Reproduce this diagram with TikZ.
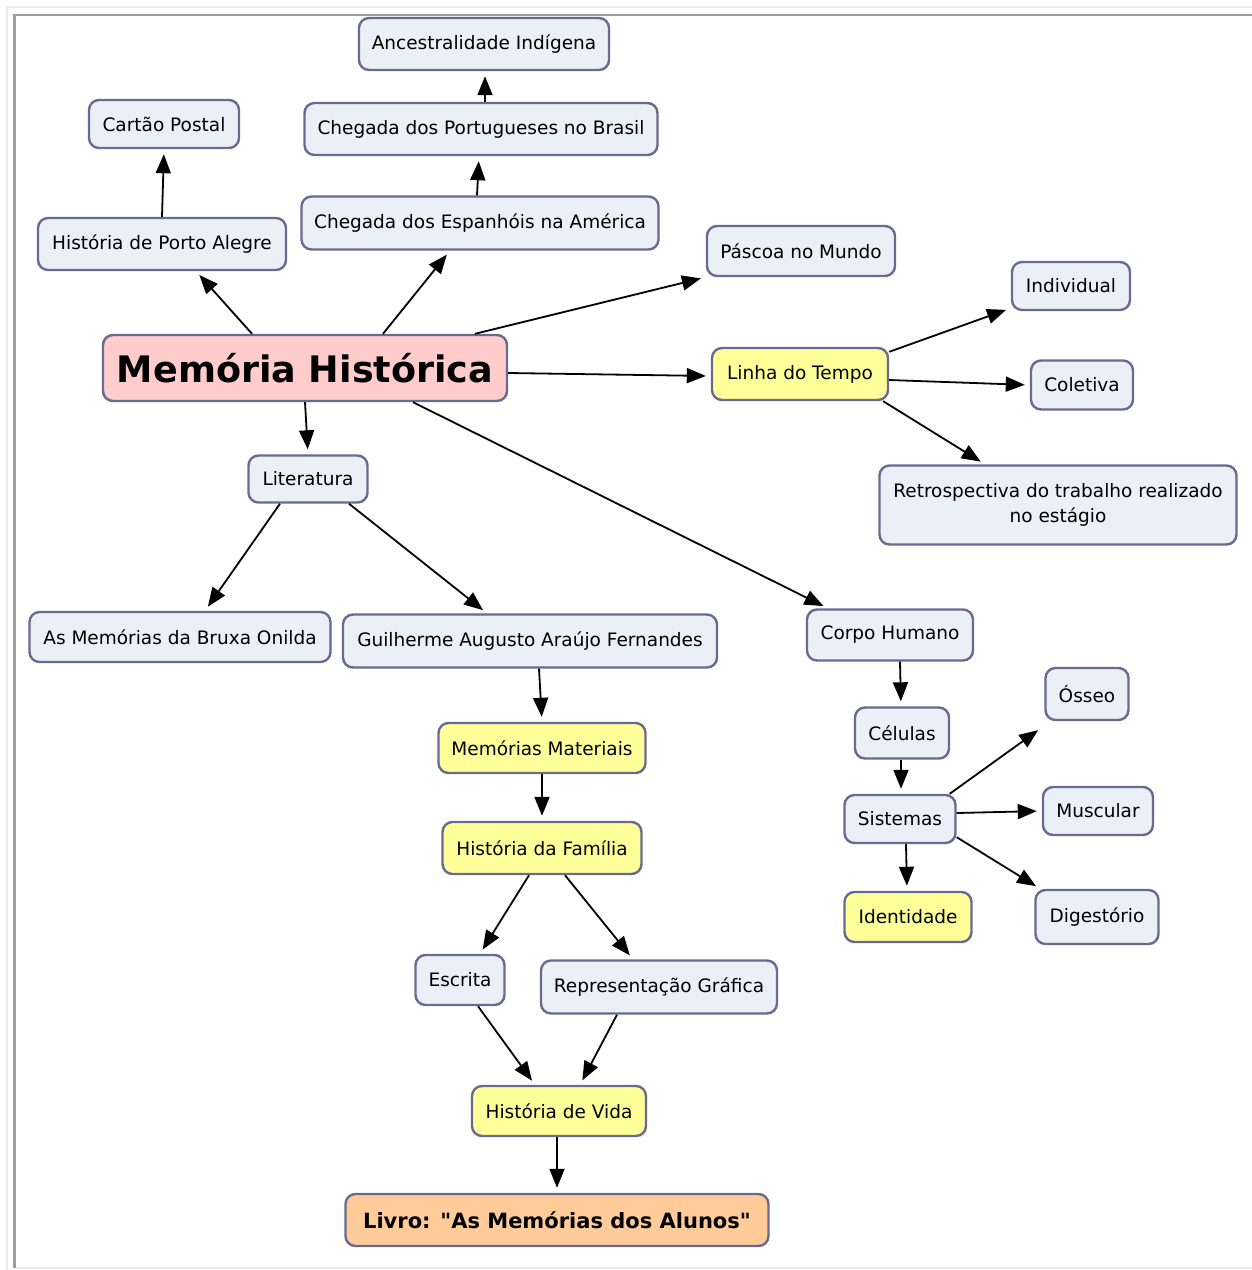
\documentclass[tikz,border=0pt]{standalone}
\usepackage{fontspec}
\setmainfont{DejaVu Sans}[Ligatures=TeXOff]
\usetikzlibrary{arrows.meta,calc}
\definecolor{bfill}{HTML}{EAF0F6}
\definecolor{bdraw}{HTML}{6A6A90}
\definecolor{yfill}{HTML}{FFFF99}
\definecolor{pfill}{HTML}{FFCCCC}
\definecolor{ofill}{HTML}{FFCC99}
\tikzset{
  box/.style={draw=bdraw, line width=2.4pt, rounded corners=10pt, fill=bfill, align=center,
    inner sep=0pt, font=\fontsize{18.5}{25}\selectfont},
  ybox/.style={box, fill=yfill},
  arr/.style={line width=1.8pt, -{Triangle[length=19pt,width=15pt]}, shorten >=5pt},
}
\begin{document}
\begin{tikzpicture}[x=1pt,y=-1pt]
\useasboundingbox (0,0) rectangle (1252,1270);
\fill[white] (0,0) rectangle (1252,1270);
\draw[line width=2pt, black!8] (7,1270) -- (7,7) -- (1252,7);
\draw[line width=2pt, black!8] (16,1268) -- (1252,1268);
\draw[line width=2.5pt, black!38] (14.5,1268) -- (14.5,15) -- (1252,15);

\node[box, minimum width=250, minimum height=52] (anc) at (484,44) {Ancestralidade Indígena};
\node[box, minimum width=150, minimum height=48] (cart) at (164,124) {Cartão Postal};
\node[box, minimum width=353, minimum height=52] (port) at (481,129) {Chegada dos Portugueses no Brasil};
\node[box, minimum width=357, minimum height=53] (esp) at (480,223) {Chegada dos Espanhóis na América};
\node[box, minimum width=248, minimum height=52] (hpa) at (162,244) {História de Porto Alegre};
\node[box, minimum width=188, minimum height=50] (pasc) at (801,251) {Páscoa no Mundo};
\node[box, minimum width=118, minimum height=48] (ind) at (1071,286) {Individual};
\node[box, fill=pfill, minimum width=404, minimum height=66, font=\fontsize{36.5}{40}\selectfont\bfseries] (mh) at (305,368) {Memória Histórica};
\node[ybox, minimum width=176, minimum height=52] (linha) at (800,374) {Linha do Tempo};
\node[box, minimum width=102, minimum height=49] (col) at (1082,385) {Coletiva};
\node[box, minimum width=357, minimum height=79] (retro) at (1058,505) {Retrospectiva do trabalho realizado\\no estágio};
\node[box, minimum width=119, minimum height=47] (lit) at (308,479) {Literatura};
\node[box, minimum width=301, minimum height=50] (brux) at (180,637) {As Memórias da Bruxa Onilda};
\node[box, minimum width=374, minimum height=53] (guil) at (530,641) {Guilherme Augusto Araújo Fernandes};
\node[box, minimum width=166, minimum height=51] (corpo) at (890,635) {Corpo Humano};
\node[box, minimum width=83, minimum height=52] (oss) at (1087,694) {Ósseo};
\node[box, minimum width=94, minimum height=51] (cel) at (902,733) {Células};
\node[ybox, minimum width=207, minimum height=50] (mmat) at (542,748) {Memórias Materiais};
\node[box, minimum width=110, minimum height=48] (musc) at (1098,811) {Muscular};
\node[box, minimum width=111, minimum height=48] (sist) at (900,819) {Sistemas};
\node[ybox, minimum width=199, minimum height=52] (hfam) at (542,848) {História da Família};
\node[ybox, minimum width=127, minimum height=50] (iden) at (908,917) {Identidade};
\node[box, minimum width=123, minimum height=54] (dig) at (1097,917) {Digestório};
\node[box, minimum width=89, minimum height=50] (escr) at (460,980) {Escrita};
\node[box, minimum width=236, minimum height=53] (repr) at (659,987) {Representação Gráfica};
\node[ybox, minimum width=174, minimum height=50] (hvida) at (559,1111) {História de Vida};
\node[box, fill=ofill, minimum width=423, minimum height=52, font=\fontsize{21}{25}\selectfont\bfseries] (livro) at (557,1220) {Livro: "As Memórias dos Alunos"};

% edges
\draw[arr] ([xshift=-53pt]mh.north) -- ([xshift=34pt]hpa.south);
\draw[arr] (hpa.north) -- (cart.south);
\draw[arr] ([xshift=78pt]mh.north) -- ([xshift=-30pt]esp.south);
\draw[arr] ([xshift=-3pt]esp.north) -- ([xshift=-2pt]port.south);
\draw[arr] ([xshift=4pt]port.north) -- ([xshift=1pt]anc.south);
\draw[arr] ([xshift=170pt]mh.north) -- (pasc.south west);
\draw[arr] ([yshift=-5pt]mh.east) -- ([yshift=-2pt]linha.west);
\draw[arr] ([yshift=-5pt]linha.north east) -- ([yshift=3pt]ind.south west);
\draw[arr] ([yshift=-6pt]linha.east) -- (col.west);
\draw[arr] ([xshift=-6pt]linha.south east) -- ([xshift=-73pt]retro.north);
\draw[arr] (mh.south) -- (lit.north);
\draw[arr] ([xshift=108pt]mh.south) -- ([xshift=-62pt]corpo.north);
\draw[arr] ([xshift=-28pt]lit.south) -- ([xshift=25pt]brux.north);
\draw[arr] ([xshift=41pt]lit.south) -- ([xshift=-43pt]guil.north);
\draw[arr] ([xshift=9pt]guil.south) -- (mmat.north);
\draw[arr] (mmat.south) -- (hfam.north);
\draw[arr] ([xshift=-13pt]hfam.south) -- ([xshift=20pt]escr.north);
\draw[arr] ([xshift=23pt]hfam.south) -- ([xshift=-26pt]repr.north);
\draw[arr] ([xshift=18pt]escr.south) -- ([xshift=-24pt]hvida.north);
\draw[arr] ([xshift=-42pt]repr.south) -- ([xshift=21pt]hvida.north);
\draw[arr] ([xshift=-2pt]hvida.south) -- (livro.north);
\draw[arr] ([xshift=10pt]corpo.south) -- ([xshift=-1pt]cel.north);
\draw[arr] ([xshift=-1pt]cel.south) -- ([xshift=1pt]sist.north);
\draw[arr] ([xshift=-7pt]sist.north east) -- ([xshift=-2pt,yshift=-6pt]oss.south west);
\draw[arr] ([yshift=6pt]sist.east) -- (musc.west);
\draw[arr] ([yshift=7pt]sist.south east) -- ([xshift=6pt]dig.north west);
\draw[arr] ([xshift=6pt]sist.south) -- ([xshift=-1pt]iden.north);
\end{tikzpicture}
\end{document}
